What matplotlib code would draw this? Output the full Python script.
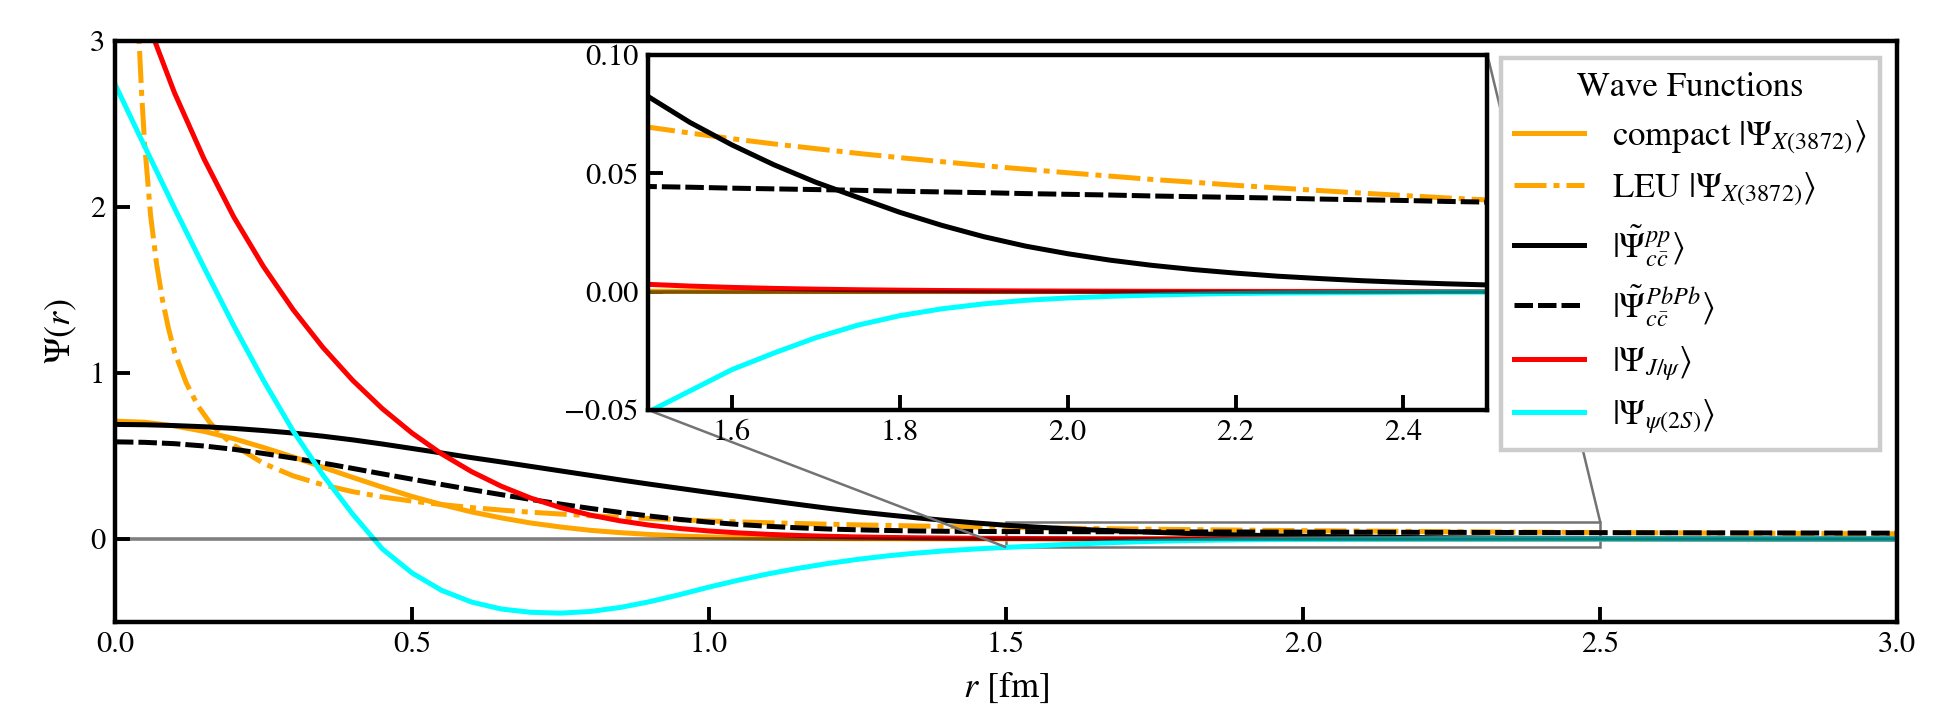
import numpy as np
import matplotlib
matplotlib.use("Agg")
import matplotlib.pyplot as plt
from mpl_toolkits.axes_grid1.inset_locator import mark_inset

plt.rcParams['font.family'] = ['STIXGeneral', 'DejaVu Serif']
plt.rcParams['mathtext.fontset'] = 'stix'
plt.rcParams['axes.linewidth'] = 1.6

# radial grid [fm]
r = np.linspace(0.0, 3.0, 61)

compact_x = [0.710, 0.703, 0.681, 0.648, 0.604, 0.551, 0.494, 0.432, 0.371, 0.312,
             0.256, 0.207, 0.163, 0.127, 0.096, 0.072, 0.052, 0.038, 0.027, 0.018,
             0.012, 0.008, 0.005, 0.0034, 0.0021, 0.0013, 0.0008, 0.0005, 0.0003, 0.0002,
             0.0001, 0.0001, 0.0, 0.0, 0.0, 0.0, 0.0, 0.0, 0.0, 0.0,
             0.0, 0.0, 0.0, 0.0, 0.0, 0.0, 0.0, 0.0, 0.0, 0.0,
             0.0, 0.0, 0.0, 0.0, 0.0, 0.0, 0.0, 0.0, 0.0, 0.0,
             0.0]

# LEU diverges at small r, own grid
r_leu = [0.03, 0.035, 0.04, 0.045, 0.05, 0.06, 0.07, 0.08, 0.09, 0.10,
         0.12, 0.14, 0.16, 0.18, 0.20, 0.25, 0.30, 0.35, 0.40, 0.45,
         0.50, 0.55, 0.60, 0.65, 0.70, 0.75, 0.80, 0.85, 0.90, 0.95,
         1.00, 1.05, 1.10, 1.15, 1.20, 1.25, 1.30, 1.35, 1.40, 1.45,
         1.50, 1.55, 1.60, 1.65, 1.70, 1.75, 1.80, 1.85, 1.90, 1.95,
         2.00, 2.05, 2.10, 2.15, 2.20, 2.25, 2.30, 2.35, 2.40, 2.45,
         2.50, 2.55, 2.60, 2.65, 2.70, 2.75, 2.80, 2.85, 2.90, 2.95,
         3.00]
leu_x = [4.1, 3.5, 3.05, 2.68, 2.38, 1.95, 1.66, 1.44, 1.27, 1.13,
         0.94, 0.80, 0.70, 0.625, 0.565, 0.455, 0.38, 0.326, 0.285, 0.253,
         0.228, 0.207, 0.189, 0.174, 0.161, 0.150, 0.140, 0.131, 0.123, 0.1155,
         0.1082, 0.1026, 0.0976, 0.0930, 0.0888, 0.0849, 0.0814, 0.0781, 0.0750, 0.0721,
         0.0695, 0.0670, 0.0646, 0.0624, 0.0604, 0.0584, 0.0566, 0.0549, 0.0532, 0.0517,
         0.0502, 0.0488, 0.0474, 0.0462, 0.0449, 0.0438, 0.0427, 0.0416, 0.0406, 0.0396,
         0.0387, 0.0378, 0.0369, 0.0361, 0.0353, 0.0345, 0.0337, 0.0330, 0.0323, 0.0317,
         0.0310]

cc_pp = [0.690, 0.688, 0.683, 0.676, 0.666, 0.653, 0.638, 0.619, 0.597, 0.572,
         0.545, 0.518, 0.490, 0.464, 0.437, 0.410, 0.383, 0.356, 0.330, 0.305,
         0.280, 0.256, 0.232, 0.208, 0.185, 0.164, 0.145, 0.127, 0.111, 0.096,
         0.0825, 0.0715, 0.062, 0.0536, 0.0462, 0.0398, 0.0335, 0.0280, 0.0232, 0.0192,
         0.0160, 0.0133, 0.0111, 0.0093, 0.0078, 0.0065, 0.0055, 0.0046, 0.0039, 0.0033,
         0.0028, 0.0024, 0.0020, 0.0017, 0.0014, 0.0012, 0.0010, 0.0009, 0.0007, 0.0006,
         0.0005]

cc_pbpb = [0.585, 0.582, 0.574, 0.560, 0.540, 0.515, 0.487, 0.457, 0.425, 0.392,
           0.360, 0.328, 0.297, 0.267, 0.238, 0.210, 0.184, 0.160, 0.138, 0.118,
           0.101, 0.087, 0.076, 0.067, 0.060, 0.055, 0.051, 0.048, 0.046, 0.045,
           0.0444, 0.0441, 0.0437, 0.0434, 0.0431, 0.0428, 0.0424, 0.0421, 0.0418, 0.0414,
           0.0411, 0.0408, 0.0404, 0.0401, 0.0398, 0.0395, 0.0391, 0.0388, 0.0385, 0.0381,
           0.0378, 0.0375, 0.0372, 0.0369, 0.0366, 0.0363, 0.0360, 0.0357, 0.0354, 0.0351,
           0.0348]

jpsi = [3.71, 3.16, 2.69, 2.289, 1.94, 1.641, 1.381, 1.154, 0.956, 0.785,
        0.638, 0.512, 0.406, 0.318, 0.246, 0.189, 0.1438, 0.1092, 0.0830, 0.0630,
        0.0479, 0.0364, 0.0276, 0.0210, 0.0159, 0.0121, 0.0092, 0.0070, 0.0053, 0.0040,
        0.00306, 0.00232, 0.00176, 0.00134, 0.00102, 0.00077, 0.00059, 0.00045, 0.00034, 0.00026,
        0.0002, 0.00015, 0.00011, 0.00009, 0.00007, 0.00005, 0.00004, 0.00003, 0.00002, 0.00002,
        0.00001, 0.00001, 0.0, 0.0, 0.0, 0.0, 0.0, 0.0, 0.0, 0.0,
        0.0]

psi2s = [2.74, 2.365, 1.995, 1.635, 1.285, 0.955, 0.65, 0.385, 0.15, -0.06,
         -0.205, -0.31, -0.38, -0.422, -0.442, -0.447, -0.437, -0.413, -0.378, -0.336,
         -0.29, -0.248, -0.21, -0.177, -0.148, -0.123, -0.102, -0.085, -0.071, -0.06,
         -0.051, -0.042, -0.033, -0.026, -0.0195, -0.0142, -0.0102, -0.0073, -0.0052, -0.0037,
         -0.0027, -0.002, -0.0015, -0.0011, -0.0008, -0.0006, -0.0005, -0.0004, -0.0003, -0.0002,
         -0.0002, -0.0001, -0.0001, -0.0001, 0.0, 0.0, 0.0, 0.0, 0.0, 0.0,
         0.0]

labels = [r'compact $|\Psi_{X(3872)}\rangle$',
          r'LEU $|\Psi_{X(3872)}\rangle$',
          r'$|\tilde{\Psi}^{pp}_{c\bar{c}}\rangle$',
          r'$|\tilde{\Psi}^{PbPb}_{c\bar{c}}\rangle$',
          r'$|\Psi_{J/\psi}\rangle$',
          r'$|\Psi_{\psi(2S)}\rangle$']

LW = 1.8


def draw_curves(a):
    a.plot(r, compact_x, color='orange', lw=LW, label=labels[0])
    a.plot(r_leu, leu_x, color='orange', ls=(0, (6.4, 1.4, 1.2, 1.4)), lw=LW, label=labels[1])
    a.plot(r, cc_pp, color='black', lw=LW, label=labels[2])
    a.plot(r, cc_pbpb, color='black', ls=(0, (3.7, 1.0)), lw=LW, label=labels[3])
    a.plot(r, jpsi, color='red', lw=LW, label=labels[4])
    a.plot(r, psi2s, color='cyan', lw=LW, label=labels[5])
    a.axhline(0, color='black', alpha=0.5, lw=1.3, zorder=3)
    a.tick_params(direction='in', length=5.5, width=1.4, labelsize=11)


fig = plt.figure(figsize=(9.74, 3.595), dpi=200)
ax = fig.add_axes([0.059, 0.135, 0.915, 0.808])
draw_curves(ax)
ax.set_xlim(0, 3)
ax.set_ylim(-0.5, 3)
ax.set_xticks(np.arange(0, 3.01, 0.5))
ax.set_xticklabels(['%.1f' % t for t in np.arange(0, 3.01, 0.5)])
ax.set_yticks([0, 1, 2, 3])
ax.set_xlabel(r'$r$ [fm]', fontsize=13)
ax.set_ylabel(r'$\Psi(r)$', fontsize=13)

leg = ax.legend(title='Wave Functions', loc='upper right', fontsize=12.5,
                title_fontsize=12.5, fancybox=False, framealpha=1,
                edgecolor='0.8', labelspacing=0.42)
leg.get_frame().set_linewidth(1.6)

axins = ax.inset_axes([0.299, 0.365, 0.471, 0.611])
draw_curves(axins)
axins.set_xlim(1.5, 2.5)
axins.set_ylim(-0.05, 0.1)
axins.set_xticks([1.6, 1.8, 2.0, 2.2, 2.4])
axins.set_yticks([-0.05, 0.0, 0.05, 0.10])
axins.set_yticklabels(['\u22120.05', '0.00', '0.05', '0.10'])
mark_inset(ax, axins, loc1=1, loc2=3, fc='none', ec='0.45', lw=0.9)

fig.savefig('out.png', dpi=200)
